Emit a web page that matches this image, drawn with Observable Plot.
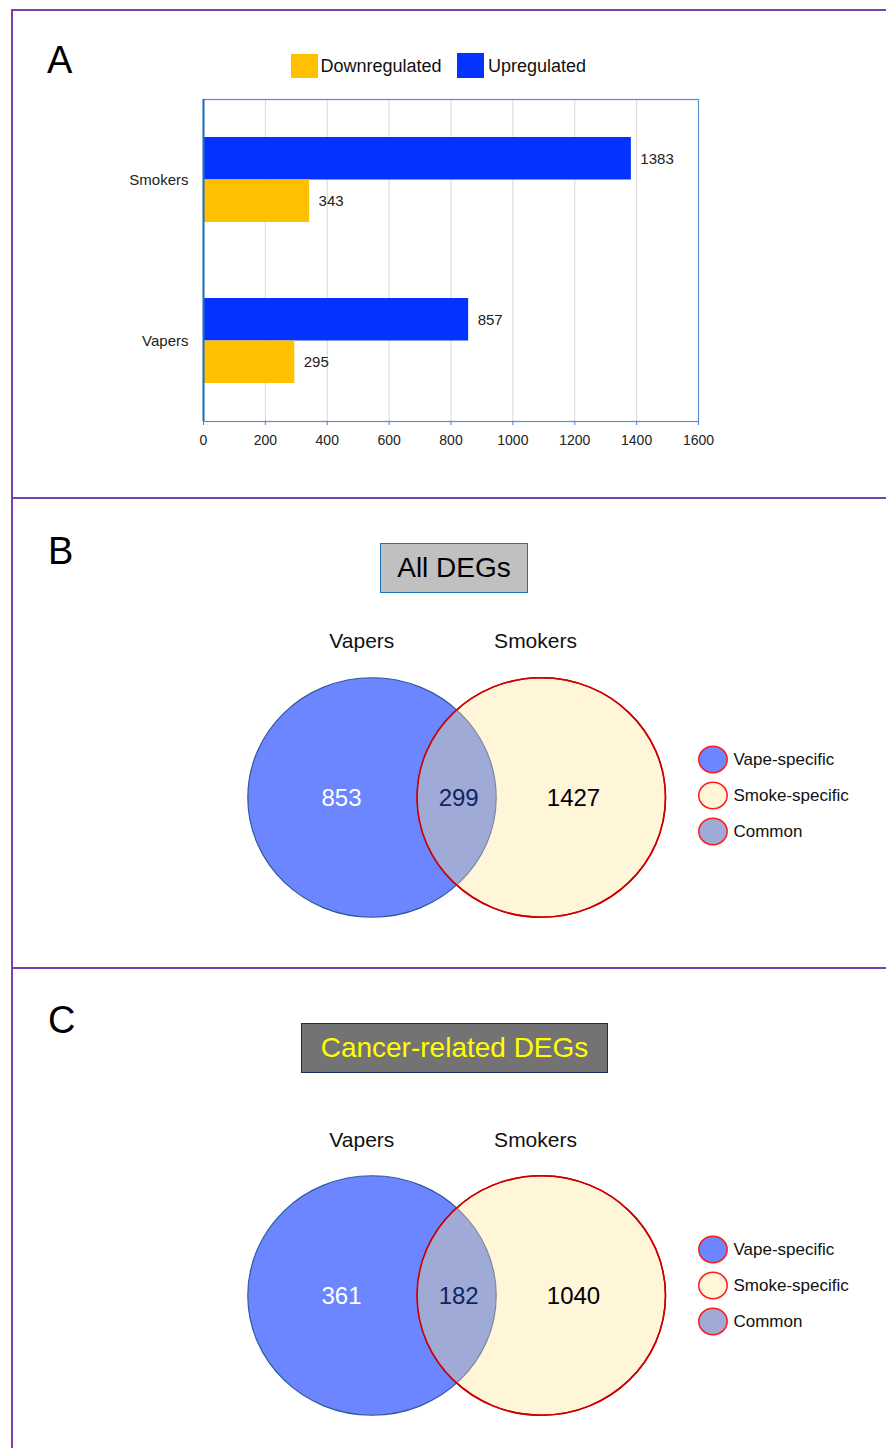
<!DOCTYPE html>
<html>
<head>
<meta charset="utf-8">
<script src="https://cdn.jsdelivr.net/npm/d3@7"></script>
<script src="https://cdn.jsdelivr.net/npm/@observablehq/plot@0.6"></script>
<style>
html, body { margin: 0; padding: 0; background: #fff; overflow: hidden; }
#fig { position: relative; width: 886px; height: 1448px; overflow: hidden; background: #fff;
       font-family: "Liberation Sans", Arial, sans-serif; }
.lbl { position: absolute; line-height: 1; white-space: nowrap; color: #000; }
.sep { position: absolute; background: #7b3fb4; }
.swatch { position: absolute; }
.box { position: absolute; box-sizing: border-box; display: flex; align-items: center; justify-content: center;
       font-size: 28px; line-height: 1; white-space: nowrap; }
.plotwrap { position: absolute; left: 0; }
</style>
</head>
<body>
<div id="fig"></div>
<script>
// ---------------- DATA ----------------
// Panel A: numbers of differentially expressed genes
const groups = ["Smokers", "Vapers"];
const upregulated = [1383, 857];
const downregulated = [343, 295];
const seriesNames = ["Downregulated", "Upregulated"];
const xTicks = [0, 200, 400, 600, 800, 1000, 1200, 1400, 1600];

// Panels B and C: Venn diagrams
const vennSets = ["Vapers", "Smokers"];
const vennRegions = ["Vape-specific", "Common", "Smoke-specific"];
const allDEGs = [853, 299, 1427];
const cancerDEGs = [361, 182, 1040];
const legendItems = ["Vape-specific", "Smoke-specific", "Common"];

// ---------------- STYLE / LAYOUT ----------------
const FONT = "'Liberation Sans', Arial, sans-serif";
const plotStyle = `background: transparent; overflow: visible; font-family: ${FONT};`;
const seriesColors = {Downregulated: "#ffc000", Upregulated: "#0433ff"};
const regionFill = {"Vape-specific": "#6b86ff", "Smoke-specific": "#fff5d9", "Common": "#a0aad6"};
const regionTextColor = {"Vape-specific": "#ffffff", "Common": "#0d2563", "Smoke-specific": "#000000"};
// layout positions in "set index" units (0 = Vapers circle centre, 1 = Smokers circle centre)
const regionPos = {"Vape-specific": -0.18, "Common": 0.512, "Smoke-specific": 1.19};
const titlePos = {"Vapers": -0.06, "Smokers": 0.966};
const legendPos = 2.014;

const fig = document.getElementById("fig");

function addLabel(text, left, top, size, extra = "") {
  const d = document.createElement("div");
  d.className = "lbl";
  d.textContent = text;
  d.style.cssText += `left:${left}px;top:${top}px;font-size:${size}px;${extra}`;
  fig.appendChild(d);
  return d;
}
function addDiv(cls, css, text) {
  const d = document.createElement("div");
  d.className = cls;
  d.style.cssText = css;
  if (text) d.textContent = text;
  fig.appendChild(d);
  return d;
}
function addPlot(svg, top) {
  const w = document.createElement("div");
  w.className = "plotwrap";
  w.style.top = top + "px";
  w.appendChild(svg);
  fig.appendChild(w);
}

// ---------------- PANEL A ----------------
const rowsUp = groups.map((g, i) => ({group: g, series: "Upregulated", value: upregulated[i]}));
const rowsDown = groups.map((g, i) => ({group: g, series: "Downregulated", value: downregulated[i]}));
const half = 42.5;

const plotA = Plot.plot({
  width: 886,
  height: 460,
  marginLeft: 203,
  marginRight: 188,
  marginTop: 99,
  marginBottom: 39,
  style: plotStyle,
  x: {domain: [0, 1600]},
  y: {domain: groups, paddingInner: 0.472, paddingOuter: 0.236},
  marks: [
    Plot.ruleX(xTicks.slice(1, -1), {stroke: "#d9d9d9", strokeWidth: 1}),
    Plot.barX(rowsUp, {x: "value", y: "group", fill: d => seriesColors[d.series], insetBottom: half}),
    Plot.barX(rowsDown, {x: "value", y: "group", fill: d => seriesColors[d.series], insetTop: half}),
    Plot.text(rowsUp, {x: "value", y: "group", text: d => String(d.value), dx: 9, dy: -21,
      textAnchor: "start", fontSize: 15, fill: "#222"}),
    Plot.text(rowsDown, {x: "value", y: "group", text: d => String(d.value), dx: 9, dy: 21,
      textAnchor: "start", fontSize: 15, fill: "#222"}),
    Plot.frame({stroke: "#5b8dd8", strokeWidth: 1.2}),
    Plot.ruleX([0], {stroke: "#1f6fc0", strokeWidth: 2}),
    Plot.axisX({ticks: xTicks, tickFormat: "d", tickSize: 4, tickPadding: 10, stroke: "#4a7fd4",
      fill: "#222", fontSize: 14, label: null}),
    Plot.axisY({tickSize: 0, tickPadding: 15, fontSize: 15, fill: "#222", label: null})
  ]
});
addPlot(plotA, 0);

// legend A
addDiv("swatch", "left:291px;top:54px;width:27px;height:24px;background:" + seriesColors.Downregulated);
addLabel(seriesNames[0], 320.5, 56.5, 18, "color:#111;");
addDiv("swatch", "left:457px;top:53px;width:27px;height:25px;background:" + seriesColors.Upregulated);
addLabel(seriesNames[1], 488, 56.5, 18, "color:#111;");

// ---------------- VENN PANELS ----------------
function ellipseSymbol(ratio) {
  const k = 0.5522848;
  return {
    draw(ctx, size) {
      const rx = Math.sqrt(size / Math.PI), ry = rx * ratio;
      ctx.moveTo(rx, 0);
      ctx.bezierCurveTo(rx, ry * k, rx * k, ry, 0, ry);
      ctx.bezierCurveTo(-rx * k, ry, -rx, ry * k, -rx, 0);
      ctx.bezierCurveTo(-rx, -ry * k, -rx * k, -ry, 0, -ry);
      ctx.bezierCurveTo(rx * k, -ry, rx, -ry * k, rx, 0);
      ctx.closePath();
    }
  };
}

function venn({top, values, clipId, titleDy, legendRange}) {
  const sets = vennSets.map((name, i) => ({name, i}));
  const regions = vennRegions.map((name, i) => ({name, value: values[i]}));
  const big = ellipseSymbol(0.964);
  const small = ellipseSymbol(0.937);
  const R = 124.2;
  const svg = Plot.plot({
    width: 886,
    height: 394,
    marginLeft: 371.5,
    marginRight: 345.2,
    marginTop: 0,
    marginBottom: 0,
    style: plotStyle,
    x: {domain: [0, 1], axis: null},
    y: {type: "point", domain: legendItems, range: legendRange, padding: 0, axis: null},
    marks: [
      Plot.dot([sets[0]], {x: "i", r: R, symbol: big, fill: regionFill["Vape-specific"], stroke: "#34579c", strokeWidth: 1.2}),
      Plot.dot([sets[1]], {x: "i", r: R, symbol: big, fill: regionFill["Smoke-specific"], stroke: "#cc0000", strokeWidth: 1.5}),
      Plot.dot([sets[0]], {x: "i", r: R, symbol: big, fill: regionFill["Common"], stroke: "#7e8a9c", strokeWidth: 1.2}),
      Plot.dot([sets[1]], {x: "i", r: R, symbol: big, fill: "none", stroke: "#cc0000", strokeWidth: 1.5}),
      Plot.text(sets, {x: d => titlePos[d.name], frameAnchor: "top", dy: titleDy, text: "name",
        fontSize: 21, fill: "#111"}),
      Plot.text(regions, {x: d => regionPos[d.name], frameAnchor: "middle", dy: 1,
        text: d => String(d.value), fontSize: 24, fill: d => regionTextColor[d.name]}),
      Plot.dot(legendItems, {x: () => legendPos, y: d => d, r: 14.2, symbol: small,
        fill: d => regionFill[d], stroke: "#ff1a1a", strokeWidth: 1.5}),
      Plot.text(legendItems, {x: () => legendPos, y: d => d, text: d => d, dx: 20.5,
        textAnchor: "start", fontSize: 17, fill: "#111"})
    ]
  });
  // clip the "common" ellipse to the Smokers ellipse to form the overlap lens
  const groupsDot = svg.querySelectorAll('g[aria-label="dot"]');
  if (groupsDot.length >= 3) {
    const ns = "http://www.w3.org/2000/svg";
    const rightPath = groupsDot[1].querySelector("path, circle");
    const defs = document.createElementNS(ns, "defs");
    const cp = document.createElementNS(ns, "clipPath");
    cp.setAttribute("id", clipId);
    cp.appendChild(rightPath.cloneNode(false));
    defs.appendChild(cp);
    svg.insertBefore(defs, svg.firstChild);
    groupsDot[2].setAttribute("clip-path", `url(#${clipId})`);
  }
  addPlot(svg, top);
}

venn({top: 600, values: allDEGs, clipId: "clipB", titleDy: 33, legendRange: [159, 231]});
venn({top: 1098, values: cancerDEGs, clipId: "clipC", titleDy: 34, legendRange: [151, 223]});

// title boxes
addDiv("box", "left:380px;top:543px;width:148px;height:50px;background:#c0c0c0;border:1.5px solid #1f6fb4;color:#000;", "All DEGs");
addDiv("box", "left:301px;top:1023px;width:307px;height:50px;background:#737373;border:1.5px solid #1b2a5e;color:#ffff00;", "Cancer-related DEGs");

// panel letters
addLabel("A", 47, 40.5, 38);
addLabel("B", 48, 532, 38);
addLabel("C", 48, 1001, 38);

// panel separators (purple frame)
addDiv("sep", "left:11px;top:9px;width:875px;height:2px;");
addDiv("sep", "left:11px;top:9px;width:2px;height:1439px;");
addDiv("sep", "left:11px;top:497px;width:875px;height:2px;");
addDiv("sep", "left:11px;top:967px;width:875px;height:2px;");
</script>
</body>
</html>
